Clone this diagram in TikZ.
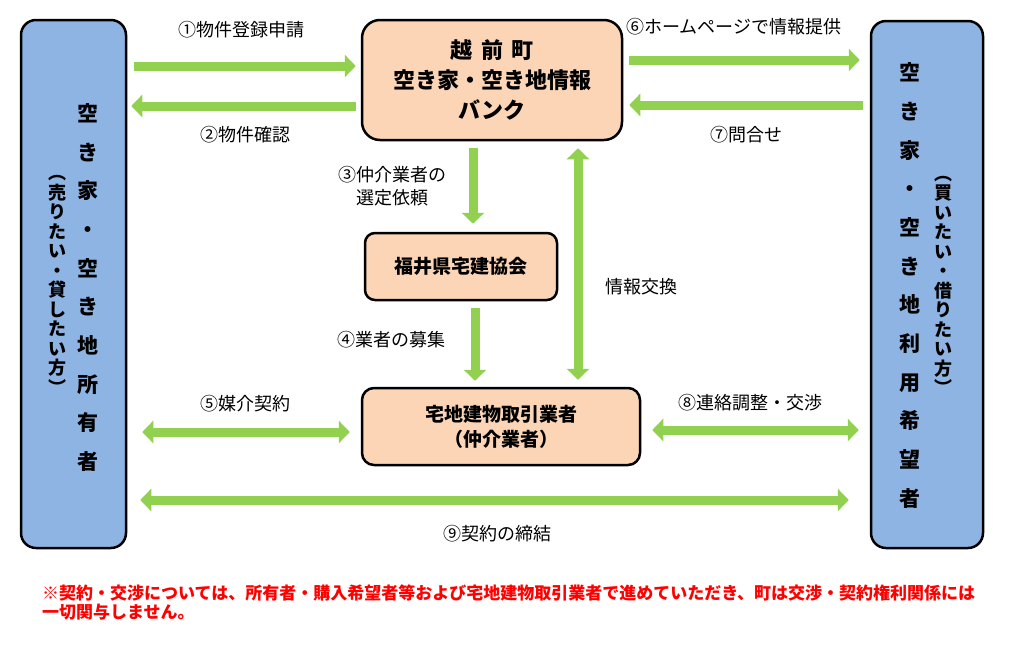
\documentclass[tikz,border=0pt]{standalone}
\usepackage{fontspec}
\setmainfont{Noto Sans CJK JP}
\usetikzlibrary{arrows.meta}

\definecolor{partyblue}{RGB}{142,180,227}
\definecolor{officepeach}{RGB}{251,213,181}
\definecolor{flowgreen}{RGB}{146,208,80}
\definecolor{notered}{RGB}{255,0,0}

\tikzset{
  party/.style={draw=black, line width=2.5pt, fill=partyblue, rounded corners=15pt},
  office/.style={draw=black, line width=2.5pt, fill=officepeach, rounded corners=12pt,
    align=center, font=\bfseries\fontsize{19}{25}\selectfont},
  flow/.style={draw=flowgreen, line width=9pt, -{Triangle[width=22pt,length=11pt]}},
  flowboth/.style={draw=flowgreen, line width=9pt,
    {Triangle[width=22pt,length=11pt]}-{Triangle[width=22pt,length=11pt]}},
  steplabel/.style={align=center, font=\fontsize{18}{23}\selectfont},
  vmain/.style={align=center, inner sep=0pt, font=\bfseries\fontsize{21}{38.7}\selectfont},
  vnote/.style={align=center, inner sep=0pt, font=\bfseries\fontsize{18}{19.5}\selectfont},
}

\begin{document}
\begin{tikzpicture}[x=1pt, y=-1pt]
  \useasboundingbox (0,0) rectangle (1021,657);

  % parties on both sides
  \node[party, minimum width=105pt, minimum height=528pt] (owner) at (73.5,284) {};
  \node[party, minimum width=112pt, minimum height=527pt] (seeker) at (927,284.5) {};
  \node[vmain] (ownername) at ([xshift=14.5pt, yshift=-3.5pt]owner.center)
    {空\\き\\家\\・\\空\\き\\地\\所\\有\\者};
  \node[vnote] (ownerwish) at ([xshift=-16.5pt, yshift=-1pt]owner.center)
    {︵\\売\\り\\た\\い\\・\\貸\\し\\た\\い\\方\\︶};
  \node[vmain] (seekername) at ([xshift=-17pt, yshift=-1pt]seeker.center)
    {空\\き\\家\\・\\空\\き\\地\\利\\用\\希\\望\\者};
  \node[vnote] (seekerwish) at ([xshift=16pt, yshift=-1pt]seeker.center)
    {︵\\買\\い\\た\\い\\・\\借\\り\\た\\い\\方\\︶};

  % offices in the middle
  \node[office, rounded corners=18pt, minimum width=260pt, minimum height=120pt,
    font=\bfseries\fontsize{22}{30}\selectfont] (bank) at (492,80)
    {越\hspace{0.4em}前\hspace{0.4em}町\\空き家・空き地情報\\バンク};
  \node[office, rounded corners=10pt, minimum width=192pt, minimum height=67pt] (assoc) at (461,266.5)
    {福井県宅建協会};
  \node[office, minimum width=278pt, minimum height=77pt] (broker) at (501,426.5)
    {宅地建物取引業者\\（仲介業者）};

  % flows
  \draw[flow, shorten <=7pt, shorten >=5pt] ([yshift=14pt]owner.east |- bank.west) -- ([yshift=14pt]bank.west);
  \draw[flow, shorten <=5pt, shorten >=4pt] ([yshift=-26pt]bank.west) -- ([yshift=-26pt]owner.east |- bank.west);
  \draw[flow, shorten <=6pt, shorten >=10pt] ([yshift=20pt]bank.east) -- ([yshift=20pt]seeker.west |- bank.east);
  \draw[flow, shorten <=7pt, shorten >=6pt] ([yshift=-25pt]seeker.west |- bank.east) -- ([yshift=-25pt]bank.east);
  \draw[flow, shorten <=7pt, shorten >=8pt] ([xshift=-19pt]bank.south) -- ([xshift=12pt]assoc.north);
  \draw[flow, shorten <=7pt, shorten >=6pt] ([xshift=14pt]assoc.south) -- ([xshift=-26pt]broker.north);
  \draw[flowboth, shorten <=7pt, shorten >=7pt] ([xshift=86pt]bank.south) -- ([xshift=77pt]broker.north);
  \draw[flowboth, shorten <=15pt, shorten >=11pt] ([yshift=-5.5pt]owner.east |- broker.west) -- ([yshift=-5.5pt]broker.west);
  \draw[flowboth, shorten <=11pt, shorten >=11pt] ([yshift=-3.5pt]broker.east) -- ([yshift=-3.5pt]seeker.west |- broker.east);
  \draw[flowboth, shorten <=13pt, shorten >=21pt] ([yshift=-216pt]owner.east) -- ([yshift=-216pt]seeker.west |- owner.east);

  % step labels
  \node[steplabel] (step1) at (241,30) {①物件登録申請};
  \node[steplabel] (step2) at (245,135) {②物件確認};
  \node[steplabel] (step3) at (392,186) {③仲介業者の\\選定依頼};
  \node[steplabel] (step4) at (391,340) {④業者の募集};
  \node[steplabel] (swap) at (641,287) {情報交換};
  \node[steplabel] (step5) at (245,404) {⑤媒介契約};
  \node[steplabel] (step6) at (734,27) {⑥ホームページで情報提供};
  \node[steplabel] (step7) at (746,135) {⑦問合せ};
  \node[steplabel] (step8) at (750,403) {⑧連絡調整・交渉};
  \node[steplabel] (step9) at (497,534) {⑨契約の締結};

  % note
  \node[anchor=west, align=left, text=notered, inner sep=0pt,
    font=\bfseries\fontsize{17}{19}\selectfont] (note) at (42,603)
    {※契約・交渉については、所有者・購入希望者等および宅地建物取引業者で進めていただき、町は交渉・契約権利関係には\\一切関与しません。};
\end{tikzpicture}
\end{document}
